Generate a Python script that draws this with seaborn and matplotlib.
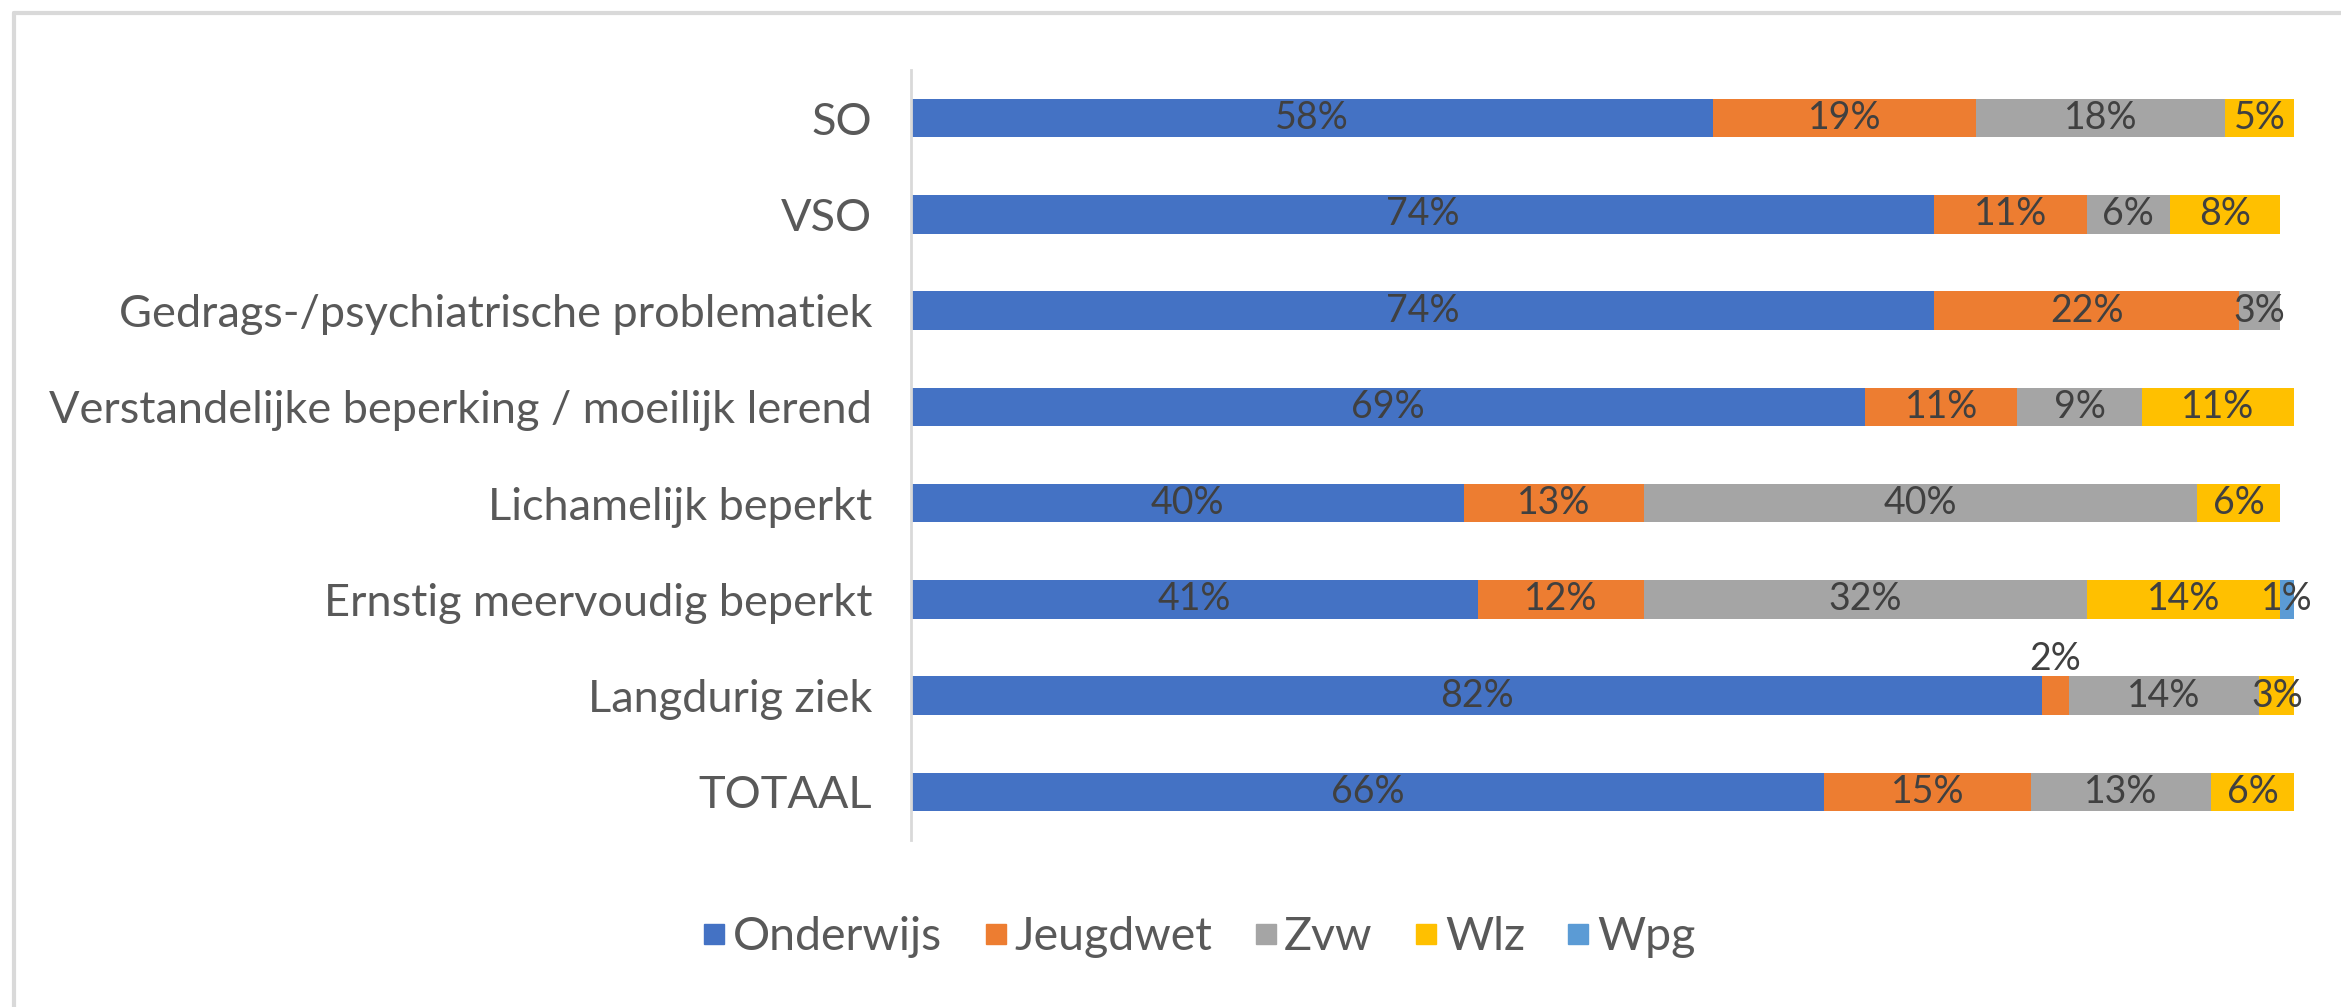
import matplotlib
matplotlib.use("Agg")
import pandas as pd
import matplotlib.pyplot as plt
import seaborn as sns
from matplotlib.lines import Line2D

# Data
categorieen = ["SO", "VSO", "Gedrags-/psychiatrische problematiek",
               "Verstandelijke beperking / moeilijk lerend", "Lichamelijk beperkt",
               "Ernstig meervoudig beperkt", "Langdurig ziek", "TOTAAL"]
onderwijs = [58, 74, 74, 69, 40, 41, 81.8, 66]
jeugdwet = [19, 11, 22, 11, 13, 12, 1.9, 15]
zvw = [18, 6, 3, 9, 40, 32, 13.8, 13]
wlz = [5, 8, 0, 11, 6, 14, 2.6, 6]
wpg = [0, 0, 0, 0, 0, 1, 0, 0]
reeksen = ["Onderwijs", "Jeugdwet", "Zvw", "Wlz", "Wpg"]
kleuren = ["#4472C4", "#ED7D31", "#A5A5A5", "#FFC000", "#5B9BD5"]

W, H = 2341, 1007
sns.set_style("white")
plt.rcParams["font.family"] = ["Lato", "DejaVu Sans"]

# lange tabel met cumulatieve waarden
df = pd.DataFrame({"categorie": categorieen, "Onderwijs": onderwijs, "Jeugdwet": jeugdwet,
                   "Zvw": zvw, "Wlz": wlz, "Wpg": wpg})
cum = df[reeksen].cumsum(axis=1)

fig = plt.figure(figsize=(W / 100, H / 100), dpi=100)
ax = fig.add_axes([911 / W, 1 - 840 / H, (2294 - 911) / W, (840 - 70) / H])

# gestapelde balken: van achter (totaal) naar voren
for k in range(len(reeksen) - 1, -1, -1):
    naam = reeksen[k]
    sub = pd.DataFrame({"categorie": df["categorie"], "waarde": df[naam], "cum": cum[naam]})
    sub = sub[sub["waarde"] > 0]
    sns.barplot(data=sub, x="cum", y="categorie", order=categorieen, color=kleuren[k],
                saturation=1, width=0.4, orient="h", ax=ax, linewidth=0)

# datalabels
for i, cat in enumerate(categorieen):
    start = 0
    for naam in reeksen:
        v = df.loc[i, naam]
        if v > 0:
            xpos = start + v / 2
            ypos = i
            if cat == "Langdurig ziek" and naam == "Jeugdwet":
                ypos = i - 0.38
            ax.text(xpos, ypos, f"{v:.0f}%", ha="center", va="center",
                    fontsize=27, color="#404040")
        start += v

ax.set_xlim(0, 100)
ax.set_xlabel("")
ax.set_ylabel("")
ax.set_xticks([])
ax.tick_params(axis="y", length=0, pad=28, labelsize=32.5, labelcolor="#595959")
for s in ["top", "right", "bottom"]:
    ax.spines[s].set_visible(False)
ax.spines["left"].set_color("#D9D9D9")
ax.spines["left"].set_linewidth(2)

# legenda
handles = [Line2D([], [], marker="s", linestyle="", markersize=14, color=c) for c in kleuren]
fig.legend(handles, reeksen, loc="center", bbox_to_anchor=(1199 / W, 1 - 937 / H), ncol=5,
           frameon=False, fontsize=33.5, labelcolor="#595959", handletextpad=0.15,
           columnspacing=0.9, handlelength=0.5)

# kader van de grafiek
fig.add_artist(Line2D([14 / W, 1], [1 - 13 / H, 1 - 13 / H], color="#D9D9D9", linewidth=3))
fig.add_artist(Line2D([14 / W, 14 / W], [0, 1 - 13 / H], color="#D9D9D9", linewidth=3))

fig.savefig("out.png", dpi=100, facecolor="white")
